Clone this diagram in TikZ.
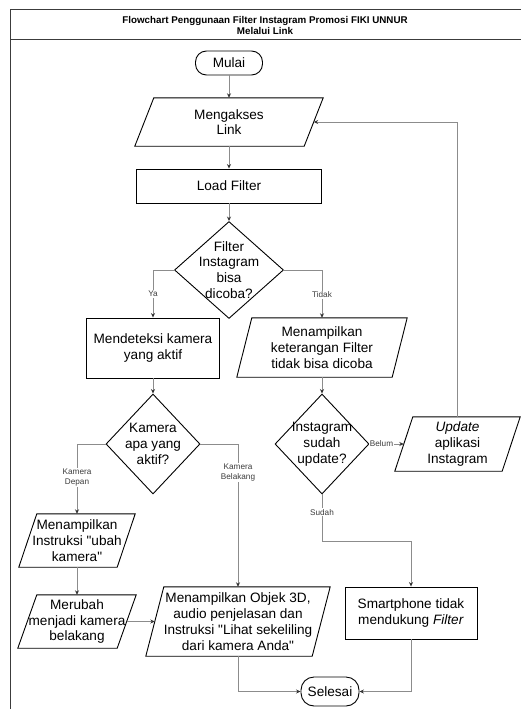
\documentclass[tikz,border=0pt]{standalone}
\usepackage{fontspec}
\setmainfont{Liberation Sans}
\usetikzlibrary{shapes.geometric,arrows.meta,calc}
\definecolor{conncol}{RGB}{140,140,140}
\definecolor{lblcol}{RGB}{60,60,60}
\definecolor{framecol}{RGB}{60,60,60}
\newcommand{\parashape}[2]{\draw[line width=0.9pt] ([xshift=#2]#1.north west) -- (#1.north east) -- ([xshift=-#2]#1.south east) -- (#1.south west) -- cycle;}
\begin{document}
\begin{tikzpicture}[x=1pt,y=-1pt,
  mainfont/.style={font=\fontsize{13.6}{15.8}\selectfont},
  shp/.style={mainfont, draw=black, line width=0.9pt, inner sep=0pt, align=center},
  proc/.style={shp, rectangle},
  term/.style={shp, rectangle, rounded corners=11pt},
  dec/.style={shp, diamond, aspect=1},
  io/.style={mainfont, rectangle, inner sep=0pt, align=center},
  txt/.style={mainfont, inner sep=0pt, align=center},
  conn/.style={draw=conncol, line width=0.8pt, -{Stealth[length=4.5pt,width=4pt,color=black!80]}},
  lab/.style={font=\fontsize{8.2}{9.8}\selectfont, text=lblcol, fill=white, inner sep=1pt, align=center}
]
\useasboundingbox (0,0) rectangle (521,709);
\fill[white] (0,0) rectangle (521,709);

% frame and title
\draw[framecol, line width=1pt] (10,715) -- (10,10) -- (530,10);
\draw[framecol, line width=1pt] (10,40) -- (530,40);
\node[font=\bfseries\fontsize{9.8}{11}\selectfont, align=center] (title) at (265,25.5)
  {Flowchart Penggunaan Filter Instagram Promosi FIKI UNNUR\\Melalui Link};

% nodes
\node[term, minimum width=67, minimum height=24] (mulai) at (229,63) {Mulai};
\node[io, minimum width=188, minimum height=48] (link) at (229,122) {Mengakses\\Link};
\parashape{link}{19}
\node[proc, minimum width=185, minimum height=34] (load) at (229,186) {Load Filter};
\node[dec, minimum width=109, minimum height=97] (d1) at (229,270) {};
\node[txt] (d1t) at (d1) {Filter\\Instagram\\bisa\\dicoba?};

\node[proc, minimum width=133, minimum height=60] (deteksi) at (153,348) {Mendeteksi kamera\\yang aktif};
\node[io, minimum width=170, minimum height=59] (ket) at (322,347.5) {Menampilkan\\keterangan Filter\\tidak bisa dicoba};
\parashape{ket}{15}

\node[dec, minimum width=94, minimum height=100] (d2) at (153,444) {};
\node[txt] (d2t) at (d2) {Kamera\\apa yang\\aktif?};
\node[dec, minimum width=94, minimum height=100] (d3) at (322,444) {};
\node[txt] (d3t) at (d3) {Instagram\\sudah\\update?};
\node[io, minimum width=125, minimum height=54] (upd) at (457.5,444) {\textit{Update}\\aplikasi\\Instagram};
\parashape{upd}{18}

\node[io, minimum width=116, minimum height=53] (instr) at (77,540.5) {Menampilkan\\Instruksi \textquotedbl ubah\\kamera\textquotedbl};
\parashape{instr}{18}
\node[io, minimum width=118, minimum height=53] (rubah) at (77,621.5) {Merubah\\menjadi kamera\\belakang};
\parashape{rubah}{19}
\node[io, minimum width=184, minimum height=69] (objek) at (238,621.5) {Menampilkan Objek 3D,\\audio penjelasan dan\\Instruksi \textquotedbl Lihat sekeliling\\dari kamera Anda\textquotedbl};
\parashape{objek}{18}
\node[proc, minimum width=132, minimum height=52] (smart) at (411,613) {Smartphone tidak\\mendukung \textit{Filter}};
\node[term, minimum width=58, minimum height=29, rounded corners=13pt] (selesai) at (330,691.5) {Selesai};

\coordinate (sbend) at (411,541);

% connectors
\draw[conn] (mulai) -- (link);
\draw[conn] (link) -- (load);
\draw[conn] (load) -- (d1);
\draw[conn] (d1.west) -| node[lab, pos=0.75] {Ya} (deteksi.north);
\draw[conn] (d1.east) -| node[lab, pos=0.76] {Tidak} (ket.north);
\draw[conn] (deteksi) -- (d2);
\draw[conn] (ket) -- (d3);
\draw[conn] (d2.west) -| node[lab, pos=0.74] {Kamera\\Depan} (instr.north);
\draw[conn] (d2.east) -| node[lab, pos=0.6] {Kamera\\Belakang} (objek.north);
\draw[conn] (d3.east) -- node[lab, pos=0.35] {Belum} ([xshift=9]upd.west);
\draw[conn] (upd.north) |- ([xshift=-9.5]link.east);
\draw[conn] (d3.south) |- node[lab, pos=0.19] {Sudah} (sbend) -- (smart.north);
\draw[conn] (instr) -- (rubah);
\draw[conn] ([xshift=-9.5]rubah.east) -- ([xshift=9]objek.west);
\draw[conn] (objek.south) |- (selesai.west);
\draw[conn] (smart.south) |- (selesai.east);
\end{tikzpicture}
\end{document}
